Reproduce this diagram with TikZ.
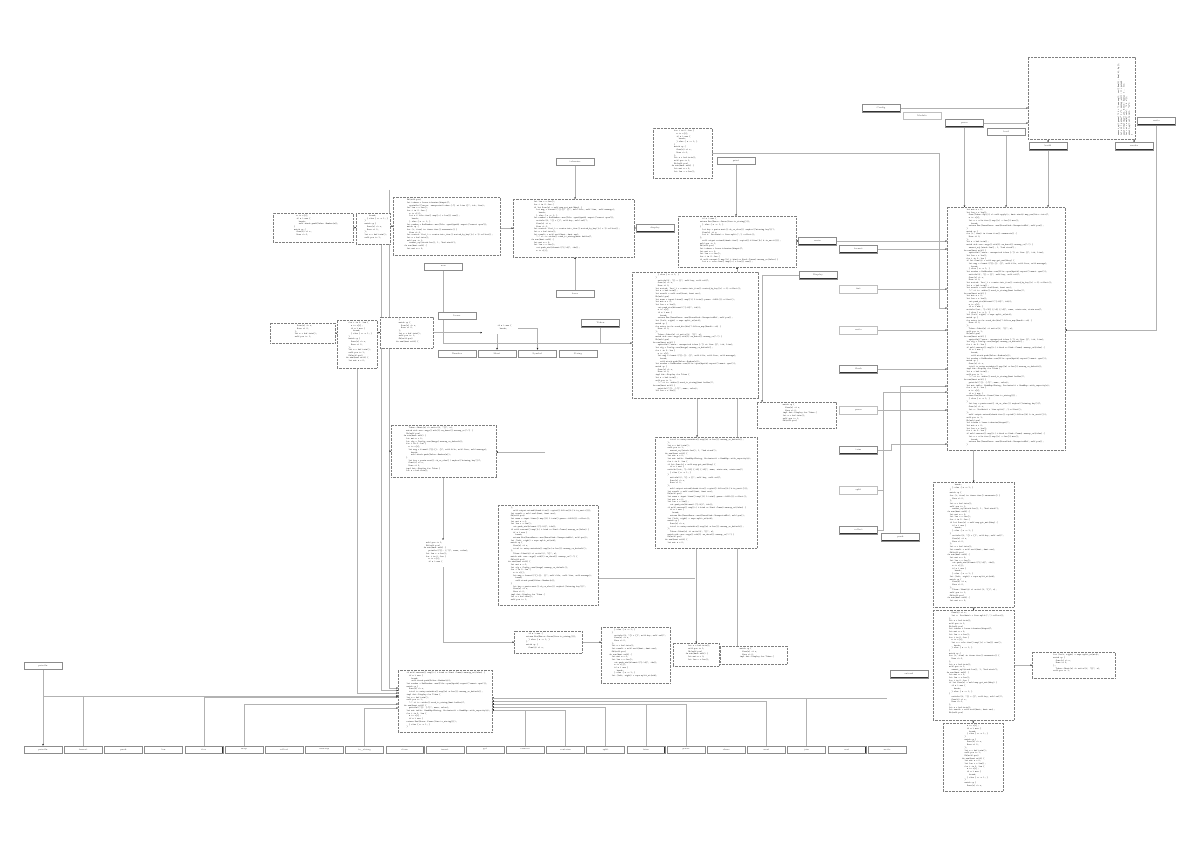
\documentclass[tikz,border=0pt]{standalone}
\usetikzlibrary{arrows.meta,calc}
\pgfdeclarelayer{bg}
\pgfsetlayers{bg,main}
\newcommand\codefont{\fontsize{2.2}{2.7}\selectfont\ttfamily}
\newcommand\IN{\hspace*{2.4pt}}
\newcommand\Sline[1]{\ifcase#1\relax
fn run(\&mut self) \{\or
\IN let mut n = 0;\or
\IN let len = v.len();\or
\IN for i in 0..len \{\or
\IN\IN n += v[i];\or
\IN\IN if n > max \{\or
\IN\IN\IN break;\or
\IN\IN \} else \{ n -= 1; \}\or
\IN \}\or
\IN match op \{\or
\IN\IN Some(x) => x,\or
\IN\IN None => 0,\or
\IN \};\or
\IN let s = buf.trim();\or
\IN self.pos += 1;\or
\IN Ok(self.pos)\fi}
\newcommand\Lline[1]{\ifcase#1\relax
\IN let tokens = lexer.tokenize(\&input)?;\or
\IN\IN println!("\{\}: \{:?\}", name, value);\or
\IN let cfg = Config::new(\&args).unwrap\_or\_default();\or
\IN\IN out.push\_str(\&format!("\{:>8\}", idx));\or
\IN if let Some(e) = self.map.get\_mut(\&key) \{\or
\IN\IN let w = cols.iter().map(|c| c.len()).max();\or
\IN return Err(Error::Parse(line.to\_string()));\or
\IN\IN\IN self.stack.push(Value::Number(n));\or
\IN let (left, right) = expr.split\_at(mid);\or
\IN\IN writeln!(f, "\{\} = \{\}", self.key, self.val)?;\or
\IN for (i, item) in items.iter().enumerate() \{\or
\IN\IN let v: Vec<\&str> = line.split(',').collect();\or
\IN impl fmt::Display for Token \{\or
\IN\IN Token::Ident(s) => write!(f, "\{\}", s),\or
\IN let result = self.eval(\&ast, \&mut env);\or
\IN\IN assert\_eq!(stack.len(), 1, "bad stack");\fi}
\newcommand\XLline[1]{\ifcase#1\relax
\IN let nums = input.lines().map(|l| l.trim().parse::<i64>()).collect();\or
\IN\IN eprintln!("error: unexpected token \{:?\} at line \{\}", tok, line);\or
\IN let mut table: HashMap<String, Vec<usize>> = HashMap::with\_capacity(n);\or
\IN\IN Some(Token::Op(c)) => self.apply(c, \&mut stack).map\_err(Into::into)?,\or
\IN if self.current().map(|t| t.kind == Kind::Comma).unwrap\_or(false) \{\or
\IN\IN let msg = format!("\{\}:\{\}: \{\}", self.file, self.line, self.message);\or
\IN writeln!(out, "\{:<10\} \{:>6\} \{:>6\}", name, stats.min, stats.max)?;\or
\IN\IN return Err(ParseError::new(ErrorKind::UnexpectedEof, self.pos));\or
\IN let reader = BufReader::new(File::open(\&path).expect("cannot open"));\or
\IN\IN let key = parts.next().ok\_or\_else(|| anyhow!("missing key"))?;\or
\IN for entry in fs::read\_dir(dir)?.filter\_map(Result::ok) \{\or
\IN\IN total += entry.metadata().map(|m| m.len()).unwrap\_or\_default();\or
\IN let sorted: Vec<\_> = counts.into\_iter().sorted\_by\_key(|c| c.1).collect();\or
\IN\IN self.output.extend(chunk.iter().copied().filter(|b| b.is\_ascii()));\or
\IN match std::env::args().nth(1).as\_deref().unwrap\_or("-") \{\or
\IN\IN "-" => io::stdin().read\_to\_string(\&mut buffer)?,\fi}
\newcommand\codeblk[3]{%
 \foreach \n in {1,...,#1}{%
  \pgfmathtruncatemacro\cbK{mod(\n+#2,16)}%
  \pgfmathtruncatemacro\cbA{mod(\n*3+#2,5)}%
  \pgfmathtruncatemacro\cbB{mod(\n*5+#2,7)}%
  \ifnum#3=0 \hbox{\hspace*{4pt}\Sline{\cbK}}%
  \else\ifnum\cbA=0 \hbox{\hspace*{4pt}\Lline{\cbK}}%
  \else\ifnum#3=2 \ifnum\cbB<2 \hbox{\hspace*{4pt}\XLline{\cbK}}\else\hbox{\hspace*{4pt}\Sline{\cbK}}\fi
  \else \hbox{\hspace*{4pt}\Sline{\cbK}}\fi\fi\fi}}
\newcommand\cbox[8]{%
 \pgfmathtruncatemacro\cbN{(#6-5)/2.7}%
 \node[#1, anchor=north west, minimum width=#5pt, minimum height=#6pt] (#2) at (#3,#4)
   {\parbox[c][#6pt][t]{#5pt}{\codefont\vspace*{2pt}\codeblk{\cbN}{#7}{#8}}};}
\tikzset{
 codebox/.style={draw=black!50, dash pattern=on 0.7pt off 0.7pt, line width=0.35pt, inner sep=0pt, fill=white, text=black!90},
 codetext/.style={inner sep=0pt, fill=white, text=black!90},
 sbox/.style={draw=black!45, line width=0.35pt, minimum width=38pt, minimum height=7.5pt, inner sep=0pt, fill=white,
   text=black!75, font=\fontsize{2.2}{2.6}\selectfont,
   path picture={\draw[black!80,line width=0.8pt] (path picture bounding box.south west) -- (path picture bounding box.south east) -- (path picture bounding box.north east);}},
 sboxlight/.style={sbox, draw=black!25, path picture={}},
 conn/.style={draw=black!30, line width=0.45pt, -{Stealth[length=1.6pt,width=1.5pt,color=black]}},
 link/.style={draw=black!30, line width=0.45pt},
}
\begin{document}
\begin{tikzpicture}[x=1pt,y=-1pt]
\begin{pgfonlayer}{bg}
\fill[white] (0,0) rectangle (1200,848);
\end{pgfonlayer}
\useasboundingbox (0,0) rectangle (1200,848);

% ---------- top right ----------
\node[codebox, minimum width=107pt, minimum height=82pt, anchor=north west] (B0) at (1028,57) {};
\node[rotate=90, anchor=south west, align=left, inner sep=0pt, font=\codefont, text=black!90] (B0t) at (1133,136)
 {assert\_eq!(parse("1 2 +").unwrap(), vec![Num(1), Num(2), Op]);\\
  let err = parse("1 +").unwrap\_err(); // operand\\
  assert!(matches!(err, Error::Syntax \{ .. \}));\\
  let out = run(\&["calc", "3 4 *"]);\\
  assert\_eq!(out.trim(), "12");\\
  \}};
\node[sbox] (t1) at (881,108) {Config};
\node[sboxlight] (t2) at (922,115.5) {Module};
\node[sbox] (t3) at (964.5,123) {parse};
\node[sbox] (t4) at (1006,131.5) {load};
\node[sbox] (t5) at (1048,146) {build};
\node[sbox] (t6) at (1134,146) {render};
\node[sbox] (t7) at (1156.5,121) {write};

% ---------- code blocks ----------
\cbox{codebox}{R1}{947}{207}{118}{243}{0}{2}
\cbox{codebox}{R2}{933}{482}{81}{125}{5}{1}
\cbox{codebox}{R3}{933}{610}{81}{110}{9}{1}
\cbox{codebox}{R4}{943}{723}{60}{68}{3}{0}
\cbox{codebox}{Rs}{1032}{652}{83}{26}{7}{1}
\cbox{codebox}{Ctop}{653}{128}{59}{50}{2}{0}
\cbox{codebox}{Cmid}{678}{216}{118}{51}{4}{2}
\cbox{codebox}{Ccen}{632}{272}{126}{126}{6}{2}
\cbox{codebox}{Cdisp}{757}{402}{79}{26}{8}{1}
\cbox{codebox}{Cj}{655}{437}{102}{111}{10}{2}
\cbox{codebox}{Ci}{498}{505}{100}{100}{11}{2}
\cbox{codebox}{Cf}{391}{425}{105}{52}{12}{2}
\cbox{codetext}{Cg}{398}{540}{92}{27}{13}{1}
\cbox{codebox}{Cnew}{393}{197}{107}{58}{14}{2}
\cbox{codebox}{Cscan}{513}{199}{121}{58}{1}{2}
\cbox{codebox}{Cleft1}{273}{213}{80}{29}{3}{1}
\cbox{codebox}{Cleft2}{356}{213}{34}{31}{5}{0}
\cbox{codebox}{Cl3}{380}{317}{53}{31}{7}{0}
\cbox{codebox}{Cl4}{337}{320}{40}{48}{2}{0}
\cbox{codebox}{Cl5}{270}{323}{65}{20}{9}{0}
\cbox{codetext}{txt1}{482}{323}{36}{11}{4}{0}
\cbox{codebox}{Ch}{514}{631}{68}{22}{4}{1}
\cbox{codebox}{Ck}{601}{627}{69}{56}{6}{1}
\cbox{codebox}{Cl}{673}{643}{46}{23}{12}{0}
\cbox{codebox}{Cm}{720}{646}{67}{18}{8}{1}
\cbox{codebox}{Cbot}{398}{670}{94}{62}{3}{2}

% ---------- small boxes ----------
\node[sbox] (spr) at (736,160.5) {print};
\node[sbox] (sdisp) at (655,228) {display};
\node[sbox] (smain) at (817.5,241) {main};
\node[sbox] (sDisp) at (818,275) {Display};
\node[sbox] (L1) at (858.5,249) {format};
\node[sboxlight] (L2) at (858.5,289) {fmt};
\node[sboxlight] (L3) at (858.5,330) {write};
\node[sbox] (L4) at (858.5,369) {flush};
\node[sboxlight] (L5) at (858.5,410) {parse};
\node[sbox] (L6) at (858.5,450) {trim};
\node[sboxlight] (L7) at (858.5,490) {split};
\node[sbox] (L8) at (858.5,530) {collect};
\node[sbox] (spush) at (900.5,537) {push};
\node[sbox] (sext) at (909,674) {extend};
\node[sbox] (stok) at (575,161.5) {tokenize};
\node[sbox] (slex) at (575,293.5) {lexer};
\node[sbox] (snew) at (443.5,266.5) {new};
\node[sbox] (p1) at (457,315.5) {Lexer};
\node[sbox] (p2) at (600.5,323) {Token};
\node[sbox] (q1) at (457,353.5) {Number};
\node[sbox] (q2) at (497,353.5) {Ident};
\node[sbox] (q3) at (537.5,353.5) {Symbol};
\node[sbox] (q4) at (578,353.5) {String};
\node[sbox] (btl) at (43,665.5) {println};
\foreach \lab [count=\i from 0] in {println,format,push,len,iter,map,collect,unwrap,to\_string,clone,insert,get,remove,contains,split,trim,parse,chars,next,join,sort,write}
  {\node[sbox] (b\i) at (43+40.19*\i,749.5) {\lab};}

% ---------- connectors ----------
\begin{pgfonlayer}{bg}
\draw[conn] (t1.east) -- (t1.east -| B0.west);
\draw[conn] (t3.east) -- (t3.east -| B0.west);
\draw[conn] (t3.south) -- (t3.south |- R1.north);
\draw[conn] (t4.south) -- (t4.south |- R1.north);
\draw[conn] (t5.south) -- (t5.south |- R1.north);
\draw[conn] (t5.north |- B0.south) -- (t5.north);
\draw[conn] (t6.north |- B0.south) -- (t6.north);
\draw[conn] (t7.south) |- (R1.east |- 0,330);
\draw[conn] (Ctop.east) -| (939,308) -- (R1.west |- 0,308);
\draw[conn] (spr.south) -- (spr.south |- Cmid.north);
\draw[conn] (Cm.north -| 737,0) -- (Cmid.south -| 737,0);
\draw[conn] (Ccen.south -| 697,0) -- (Cj.north -| 697,0);
\draw[conn] (Cmid.east |- smain) -- (smain.west);
\draw[conn] (smain.east) -- (smain.east -| R1.west);
\foreach \k in {1,...,5} \draw[conn] (L\k.east) -- (L\k.east -| R1.west);
\draw[conn] (L6.east) -- ++(14,0) |- (R1.west |- 0,444);
\draw[conn] (L7.east) -| (883,392) -- (R1.west |- 0,392);
\draw[link] (L8.east) -| (883,490);
\draw[conn] (spush.north) |- (R1.west |- 0,386);
\draw[conn] (sDisp.west) -| ($(Cdisp.north west)+(5,0)$);
\draw[conn] (R2.north |- R1.south) -- (R2.north);
\draw[conn] (R3.north |- R2.south) -- (R3.north);
\draw[conn] (R4.north |- R3.south) -- (R4.north);
\draw[conn] (R3.east |- Rs.west) -- (Rs.west);
\draw[conn] (Cnew.east |- Cscan.west) -- (Cscan.west);
\draw[conn] (stok.south) -- (stok.south |- Cscan.north);
\draw[conn] (slex.north) -- (slex.north |- Cscan.south);
\draw[conn] (Cscan.east |- sdisp.west) -- (sdisp.west);
\coordinate (vtop) at (389,190);
\draw[conn] (vtop) |- (Cbot.west |- 0,688);
\draw[conn] (Cnew.west -| vtop) -- (Cnew.west);
\draw[conn] (Cf.west -| vtop) -- (Cf.west);
\draw[conn] (Cleft1.east) -- (Cleft1.east -| Cleft2.west);
\draw[link] (Cleft2.east) -- (Cleft2.east -| vtop);
\draw[conn] (snew.south) |- (Ccen.west |- 0,343);
\draw[conn] (Cl5.east) -- (Cl5.east -| Cl4.west);
\draw[conn] (Cl4.east |- Cl3.west) -- (Cl3.west);
\draw[conn] (Cl3.east) -- (Cl3.east -| txt1.west);
\draw[conn] (txt1.south -| q2.north) -- (q2.north);
\draw[conn] (txt1.east) -| (q3.north);
\draw[link] (p2.south) -- (p2.south |- 0,343);
\draw[conn] (Cl4.south) |- (Cbot.west |- 0,693);
\draw[conn] (Cleft2.south -| 381,0) |- (Cbot.west |- 0,690.5);
\draw[conn] (Cf.south -| 443,0) -- (Cg.north -| 443,0);
\draw[conn] (Cg.south -| 443,0) |- (Ch.west);
\coordinate (cfx) at (545,452);
\draw[conn] (cfx) -- (cfx -| Cf.east);
\draw[link] (Ci.east |- 0,578) -- (695,578);
\draw[conn] (Cl.north |- Cj.south) -- (Cl.north);
\draw[conn] (Cl.east) -- (Cl.east -| Cm.west);
\draw[conn] (Ch.east) -- (Ch.east -| Ck.west);
\draw[conn] (btl.south) -- (b0.north);
\draw[conn] (btl.south |- 0,696) -- (Cbot.west |- 0,696);
\foreach \k/\y in {1/696,4/697,5/704,8/708} \draw[conn] (b\k.north) |- (Cbot.west |- 0,\y);
\foreach \k/\y in {12/710,13/710,14/707,15/704,16/704,18/701,19/698} \draw[conn] (b\k.north) |- (Cbot.east |- 0,\y);
\coordinate (bx) at (887,698);
\draw[link] (Cbot.east |- bx) -- (bx);
\end{pgfonlayer}
\end{tikzpicture}
\end{document}
